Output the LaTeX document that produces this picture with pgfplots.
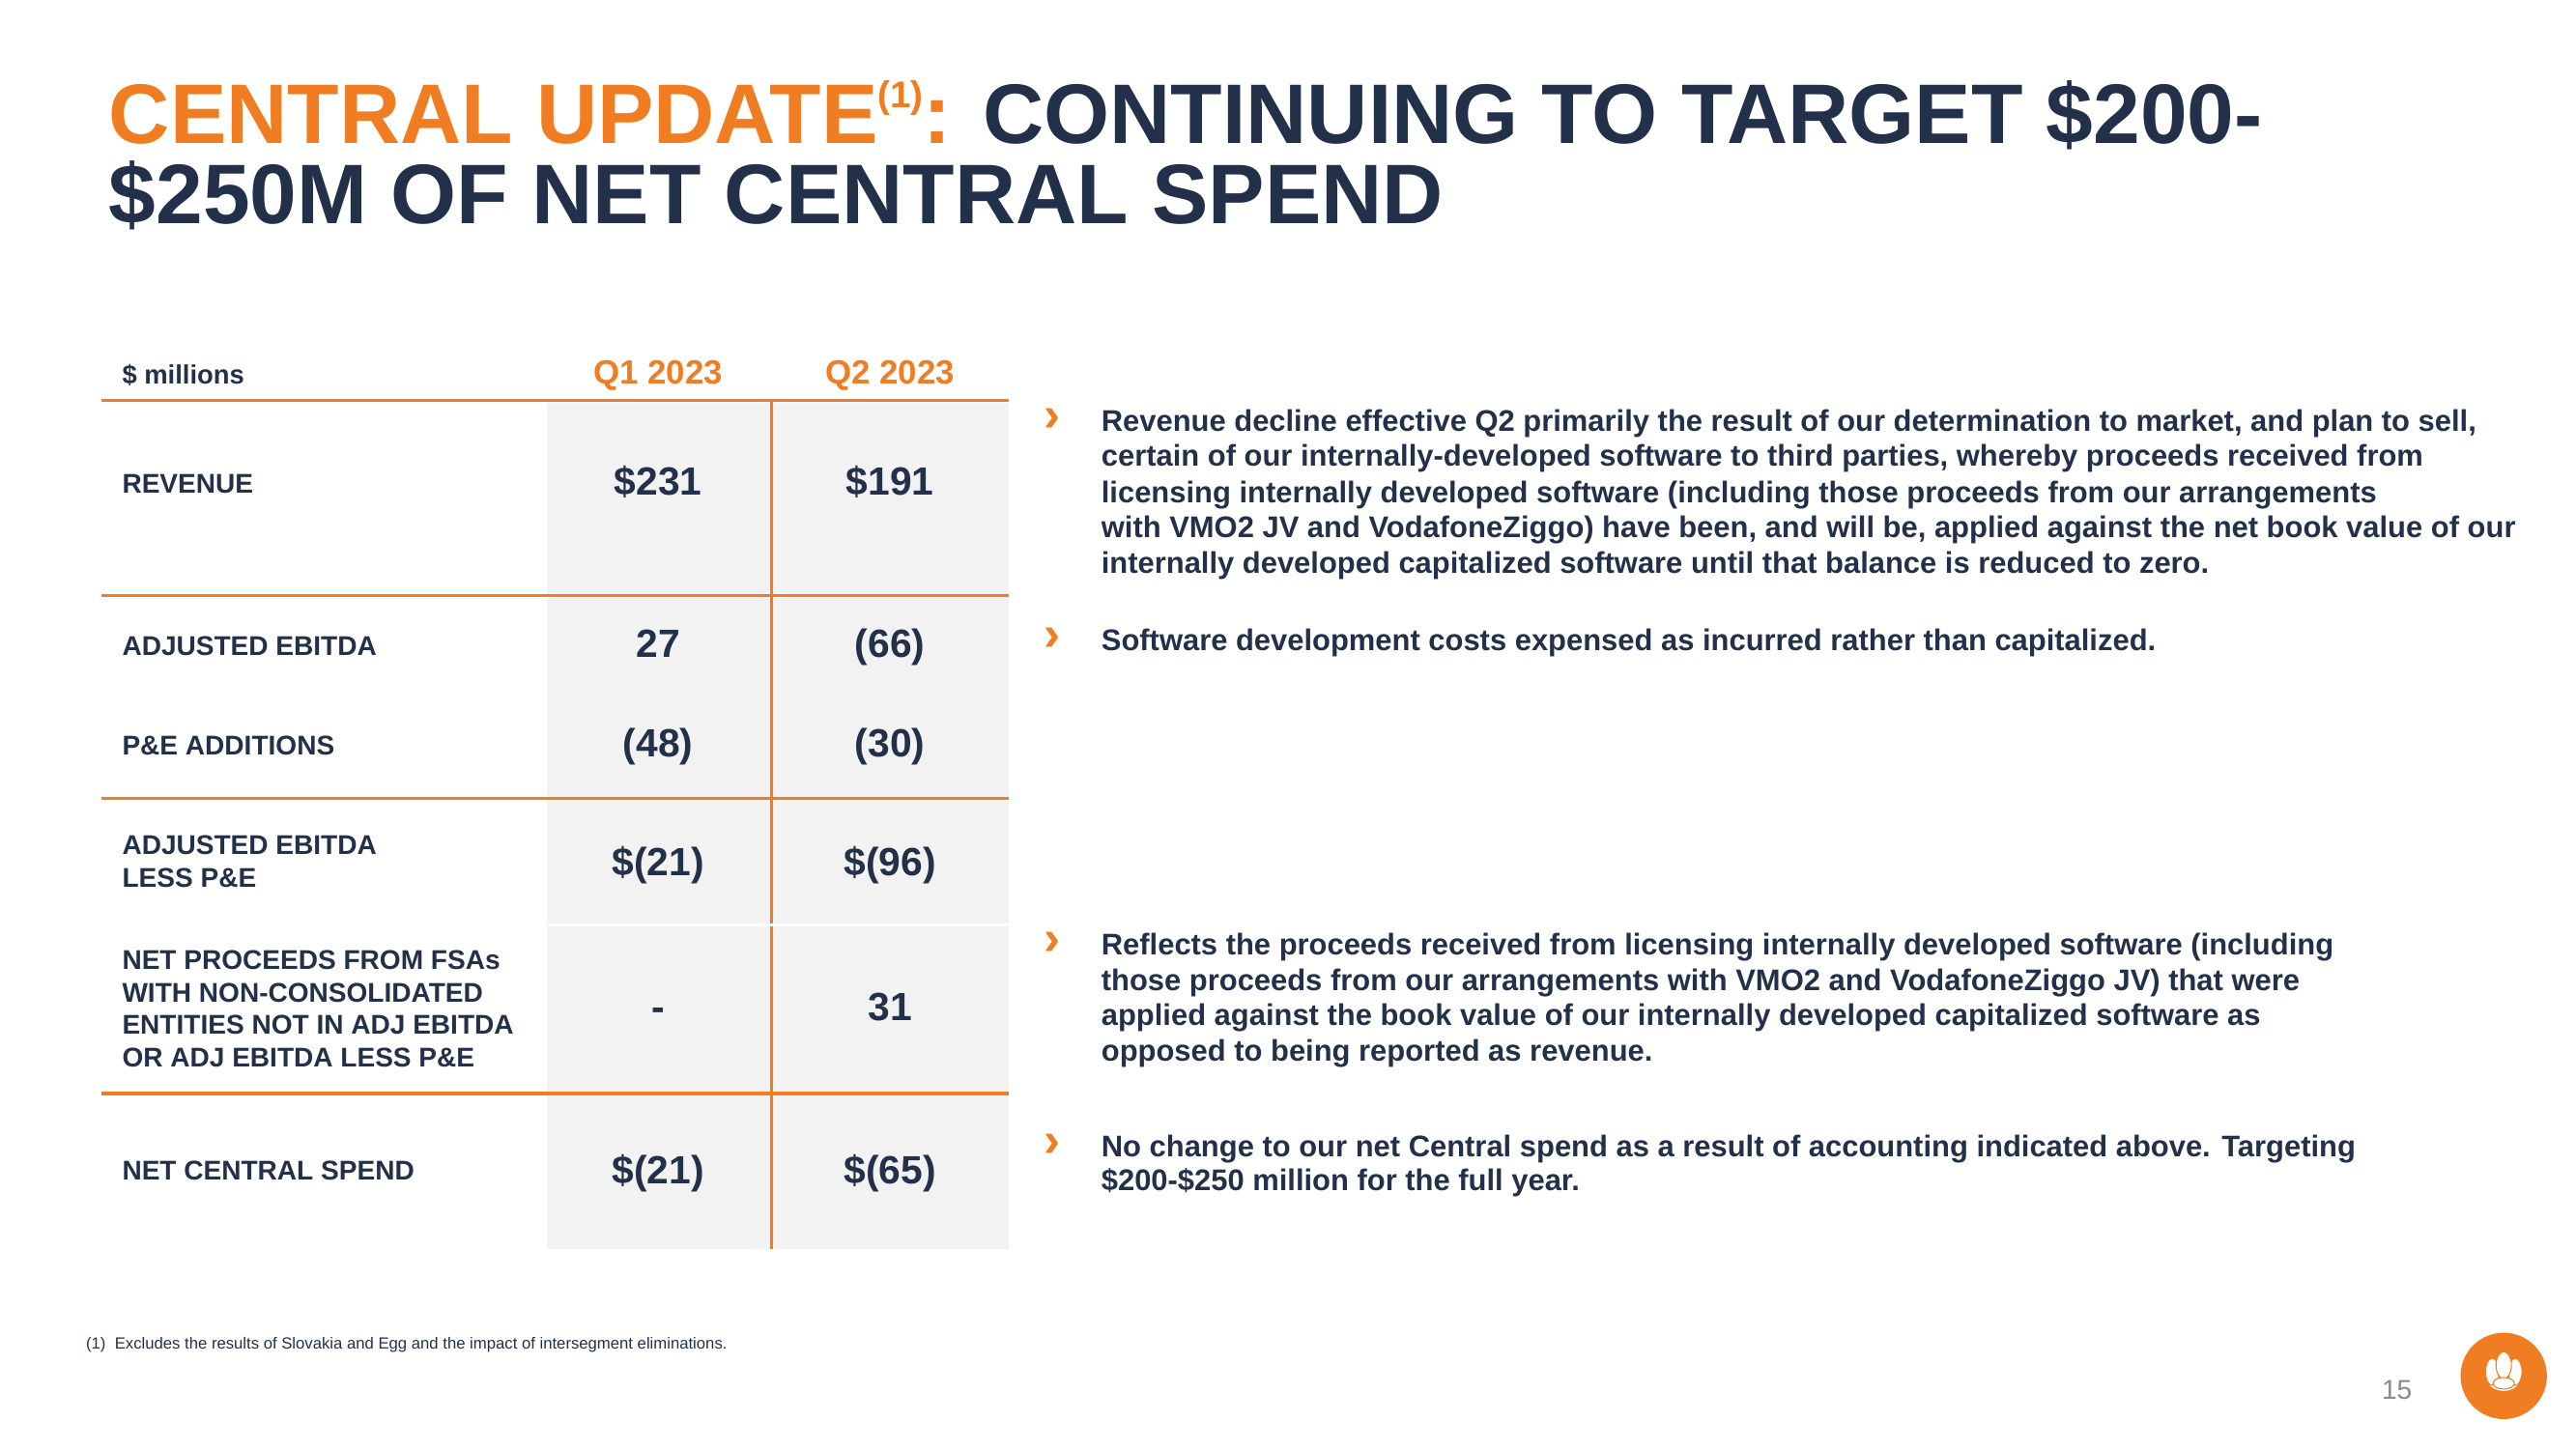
\documentclass[border=0pt]{standalone}
\usepackage{pgfplots}
\pgfplotsset{compat=1.18}
\usepackage{pgfplotstable}
\usepackage{fontspec}
\setmainfont{Liberation Sans}

\definecolor{lgorange}{HTML}{F07D22}
\definecolor{navy}{HTML}{22304A}
\definecolor{cellgray}{HTML}{F2F2F2}
\definecolor{pagegray}{HTML}{8A8A8A}

% cell values: column centre, baseline (slide units, y down), text
\pgfplotstableread[col sep=comma]{
x,y,label
400.6,301.5,\$231
541.7,301.5,\$191
400.6,400,27
541.7,400,(66)
400.6,461,(48)
541.7,461,(30)
400.6,533,\$(21)
541.7,533,\$(96)
400.6,621,-
541.7,621,31
400.6,720.5,\$(21)
541.7,720.5,\$(65)
}\cellvalues

\newcommand{\labelfont}{\fontsize{7.98}{9.5}\selectfont\bfseries\color{navy}}
\newcommand{\bodyfont}{\fontsize{8.8}{10}\selectfont\bfseries\color{navy}}

\begin{document}
\begin{tikzpicture}
\begin{axis}[
  width=26.66cm, height=15cm, scale only axis,
  xmin=0, xmax=1568, ymin=0, ymax=882, y dir=reverse,
  axis lines=none, clip=false,
]
% keep the whole slide in the picture
\path (axis cs:0,0) rectangle (axis cs:1568,882);
% grey value columns
\addplot[fill=cellgray, draw=none, mark=none] coordinates {(333,245) (614,245) (614,760) (333,760)} -- cycle;
% rules
\addplot[lgorange, line width=0.7pt, mark=none] coordinates {(469.7,244) (469.7,760)};
\addplot[lgorange, line width=0.9pt, mark=none] coordinates {(62,243.5) (614,243.5)};
\addplot[lgorange, line width=0.9pt, mark=none] coordinates {(62,362.7) (614,362.7)};
\addplot[lgorange, line width=0.9pt, mark=none] coordinates {(62,485.8) (614,485.8)};
\addplot[lgorange, line width=0.9pt, mark=none] coordinates {(62,665.6) (614,665.6)};
\addplot[white, line width=0.8pt, mark=none] coordinates {(333,563) (614,563)};

% values
\addplot[draw=none, mark=none, nodes near coords, point meta=explicit symbolic,
  every node near coord/.append style={anchor=base, inner sep=0pt,
    font=\fontsize{11.6}{13}\selectfont\bfseries, text=navy}]
  table[x=x, y=y, meta=label] {\cellvalues};

% title
\node[anchor=base west, inner sep=0pt, font=\fontsize{24.9}{24.9}\selectfont\bfseries, text=lgorange]
  at (axis cs:66,87.2) {CENTRAL UPDATE\raisebox{0.42em}{\fontsize{11}{11}\selectfont(1)}: \textcolor{navy}{CONTINUING TO TARGET \$200-}};
\node[anchor=base west, inner sep=0pt, font=\fontsize{24.9}{24.9}\selectfont\bfseries, text=navy]
  at (axis cs:66,136.3) {\$250M OF NET CENTRAL SPEND};

% table header
\node[anchor=base west, inner sep=0pt, font=\fontsize{7.8}{9}\selectfont\bfseries, text=navy]
  at (axis cs:74,234) {\$ millions};
\node[anchor=base, inner sep=0pt, font=\fontsize{9.9}{11}\selectfont\bfseries, text=lgorange]
  at (axis cs:400.6,233.6) {Q1 2023};
\node[anchor=base, inner sep=0pt, font=\fontsize{9.9}{11}\selectfont\bfseries, text=lgorange]
  at (axis cs:541.7,233.6) {Q2 2023};

% row labels
\node[anchor=base west, inner sep=0pt, font=\labelfont] at (axis cs:74,300) {REVENUE};
\node[anchor=base west, inner sep=0pt, font=\labelfont] at (axis cs:74,399) {ADJUSTED EBITDA};
\node[anchor=base west, inner sep=0pt, font=\labelfont] at (axis cs:74,459.7) {P\&E ADDITIONS};
\node[anchor=base west, inner sep=0pt, font=\labelfont] at (axis cs:74,520) {ADJUSTED EBITDA};
\node[anchor=base west, inner sep=0pt, font=\labelfont] at (axis cs:74,540) {LESS P\&E};
\node[anchor=base west, inner sep=0pt, font=\labelfont] at (axis cs:74,590) {NET PROCEEDS FROM FSAs};
\node[anchor=base west, inner sep=0pt, font=\labelfont] at (axis cs:74,610) {WITH NON-CONSOLIDATED};
\node[anchor=base west, inner sep=0pt, font=\labelfont] at (axis cs:74,629.7) {ENTITIES NOT IN ADJ EBITDA};
\node[anchor=base west, inner sep=0pt, font=\labelfont] at (axis cs:74,649.5) {OR ADJ EBITDA LESS P\&E};
\node[anchor=base west, inner sep=0pt, font=\labelfont] at (axis cs:74,718.5) {NET CENTRAL SPEND};

% bullets
\pgfplotsinvokeforeach{262.7,396,581,704}{
  \node[anchor=base, inner sep=0pt, font=\fontsize{14.5}{14.5}\selectfont\bfseries, text=lgorange]
    at (axis cs:640.5,#1) {›};
}
\node[anchor=base west, inner sep=0pt, font=\bodyfont] at (axis cs:670,262.7) {Revenue decline effective Q2 primarily the result of our determination to market, and plan to sell,};
\node[anchor=base west, inner sep=0pt, font=\bodyfont] at (axis cs:670,284) {certain of our internally-developed software to third parties, whereby proceeds received from};
\node[anchor=base west, inner sep=0pt, font=\bodyfont] at (axis cs:670,305.8) {licensing internally developed software (including those proceeds from our arrangements};
\node[anchor=base west, inner sep=0pt, font=\bodyfont] at (axis cs:670,327) {with VMO2 JV and VodafoneZiggo) have been, and will be, applied against the net book value of our};
\node[anchor=base west, inner sep=0pt, font=\bodyfont] at (axis cs:670,349) {internally developed capitalized software until that balance is reduced to zero.};
\node[anchor=base west, inner sep=0pt, font=\bodyfont] at (axis cs:670,396) {Software development costs expensed as incurred rather than capitalized.};
\node[anchor=base west, inner sep=0pt, font=\bodyfont] at (axis cs:670,581) {Reflects the proceeds received from licensing internally developed software (including};
\node[anchor=base west, inner sep=0pt, font=\bodyfont] at (axis cs:670,603) {those proceeds from our arrangements with VMO2 and VodafoneZiggo JV) that were};
\node[anchor=base west, inner sep=0pt, font=\bodyfont] at (axis cs:670,624.4) {applied against the book value of our internally developed capitalized software as};
\node[anchor=base west, inner sep=0pt, font=\bodyfont] at (axis cs:670,646) {opposed to being reported as revenue.};
\node[anchor=base west, inner sep=0pt, font=\bodyfont] at (axis cs:670,704) {No change to our net Central spend as a result of accounting indicated above. Targeting};
\node[anchor=base west, inner sep=0pt, font=\bodyfont] at (axis cs:670,725) {\$200-\$250 million for the full year.};

% footnote and page number
\node[anchor=base west, inner sep=0pt, font=\fontsize{4.75}{5}\selectfont, text=navy]
  at (axis cs:52,821) {(1)\ \ Excludes the results of Slovakia and Egg and the impact of intersegment eliminations.};
\node[anchor=base, inner sep=0pt, font=\fontsize{8}{9}\selectfont, text=pagegray]
  at (axis cs:1459,852) {15};

% logo
\fill[lgorange] (axis cs:1524,837.5) circle[radius=0.447cm];
\fill[white] (axis cs:1524,839) ellipse[x radius=0.17cm, y radius=0.13cm];
\fill[white, draw=lgorange, line width=0.3pt] (axis cs:1517,835) ellipse[x radius=0.07cm, y radius=0.14cm];
\fill[white, draw=lgorange, line width=0.3pt] (axis cs:1531,835) ellipse[x radius=0.07cm, y radius=0.14cm];
\fill[white, draw=lgorange, line width=0.3pt] (axis cs:1524,831) ellipse[x radius=0.08cm, y radius=0.14cm];
\fill[white, draw=lgorange, line width=0.3pt] (axis cs:1524,842) ellipse[x radius=0.11cm, y radius=0.06cm];
\end{axis}
\end{tikzpicture}
\end{document}
